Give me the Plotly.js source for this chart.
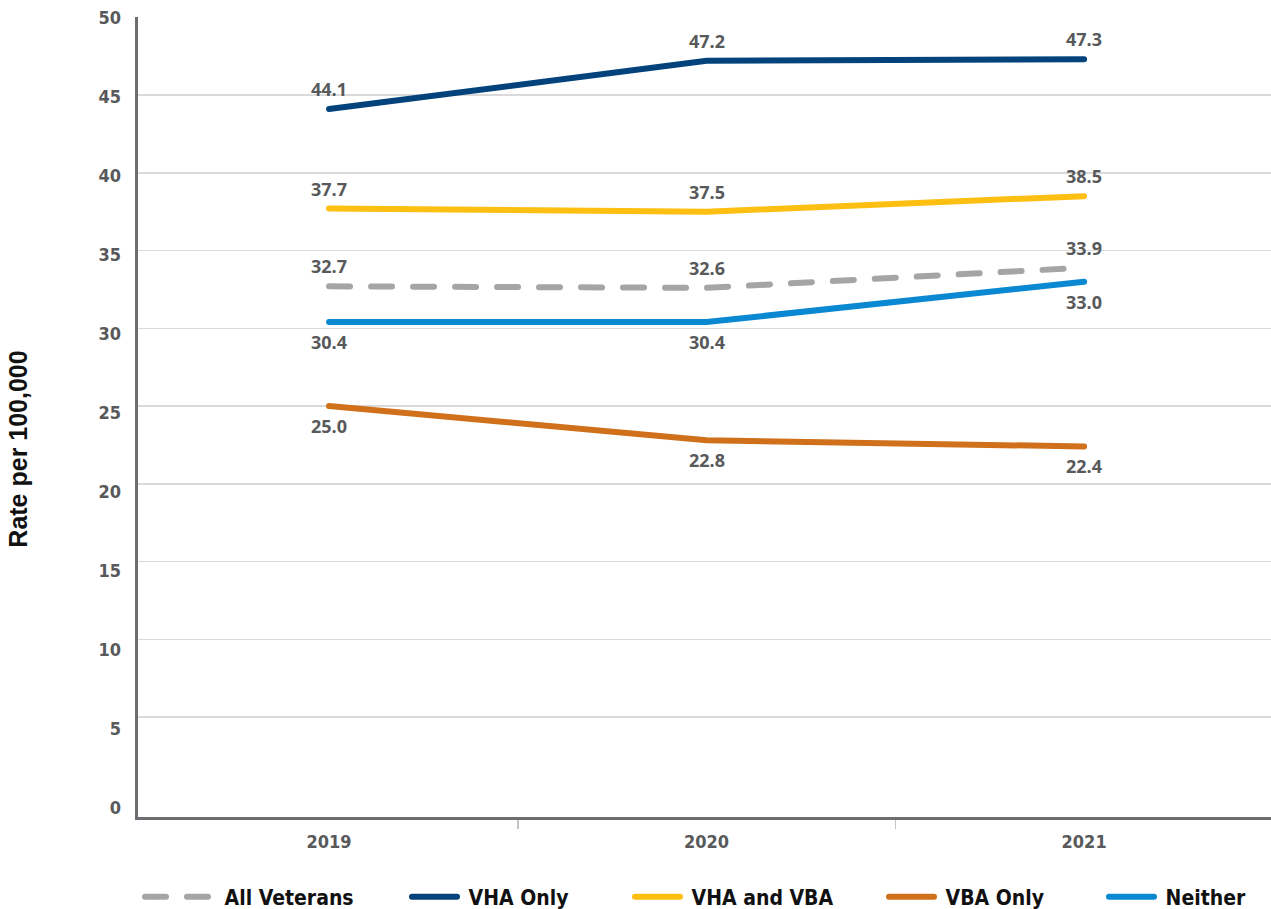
<!DOCTYPE html>
<html>
<head>
<meta charset="utf-8">
<script src="https://cdn.plot.ly/plotly-3.0.1.min.js"></script>
<style>
  html, body { margin: 0; padding: 0; background: #fff; }
  #chart { width: 1271px; height: 909px; }
  .js-line { stroke-linecap: round; }
</style>
</head>
<body>
<div id="chart"></div>
<script>
// ---- Data ----
const years = [2019, 2020, 2021];
const seriesNames = ['All Veterans', 'VHA Only', 'VHA and VBA', 'VBA Only', 'Neither'];
const allVeterans = [32.7, 32.6, 33.9];
const vhaOnly = [44.1, 47.2, 47.3];
const vhaAndVba = [37.7, 37.5, 38.5];
const vbaOnly = [25.0, 22.8, 22.4];
const neither = [30.4, 30.4, 33.0];
const yTicks = [0, 5, 10, 15, 20, 25, 30, 35, 40, 45, 50];

// ---- Styles ----
const seriesValues = [allVeterans, vhaOnly, vhaAndVba, vbaOnly, neither];
const colors = ['#a5a5a8', '#03427b', '#fdbf12', '#d0701a', '#0a88d1'];
const dashes = ['21px,21px', 'solid', 'solid', 'solid', 'solid'];
const labelSide = ['above', 'above', 'above', 'below', 'below'];
const legendLeft = [140, 407, 630, 884, 1104];
const legendItemWidth = [68, 45, 45, 45, 45];

const L = 138, R = 0, T = 17, B = 92, W = 1271, H = 909;
const plotW = W - L - R, plotH = H - T - B;
const pxToPaperX = px => (px - L) / plotW;
const pxToPaperY = py => (H - B - py) / plotH;

const narrow = '"DejaVu Sans Condensed", "Liberation Sans Narrow", Arial, sans-serif';
const tickFont = { family: narrow, size: 18, color: '#58595b', weight: 'bold' };
const labelFont = { family: '"Open Sans", Arial, sans-serif', size: 18, color: '#58595b', weight: 'bold' };
const legendFont = { family: narrow, size: 21, color: '#111111', weight: 'bold' };

const traces = [];
// empty traces for the tick-label axis and the title axis (drawn first, underneath)
traces.push({ type: 'scatter', mode: 'lines', x: [], y: [], yaxis: 'y3', showlegend: false, hoverinfo: 'skip' });
traces.push({ type: 'scatter', mode: 'lines', x: [], y: [], yaxis: 'y2', showlegend: false, hoverinfo: 'skip' });

seriesNames.forEach((name, i) => traces.push({
  type: 'scatter',
  mode: 'lines',
  name: '\u00a0' + name,
  x: years,
  y: seriesValues[i],
  yaxis: 'y',
  line: { color: colors[i], width: 6, dash: dashes[i] },
  legend: i === 0 ? 'legend' : 'legend' + (i + 1),
  hoverinfo: 'skip'
}));

const annotations = [];
seriesValues.forEach((vals, i) => {
  vals.forEach((v, j) => {
    annotations.push({
      x: years[j], y: v, xref: 'x', yref: 'y',
      text: v.toFixed(1),
      showarrow: false,
      xanchor: 'center', yanchor: 'middle',
      yshift: labelSide[i] === 'above' ? 20 : -20,
      font: labelFont
    });
  });
});

const midTicks = years.slice(1).map((y, i) => (y + years[i]) / 2);

const layout = {
  width: W, height: H,
  margin: { l: L, r: R, t: T, b: B, pad: 0, autoexpand: false },
  paper_bgcolor: '#ffffff',
  plot_bgcolor: 'rgba(0,0,0,0)',
  showlegend: true,
  xaxis: {
    range: [2018.494, 2021.495],
    tickmode: 'array',
    tickvals: years,
    ticktext: years.map(String),
    ticks: '',
    tickfont: tickFont,
    ticklabelstandoff: 6,
    showgrid: false,
    zeroline: false,
    showline: true,
    linecolor: '#6d6e71',
    linewidth: 3,
    minor: {
      tickmode: 'array',
      tickvals: midTicks,
      ticks: 'outside',
      ticklen: 9,
      tickwidth: 1.5,
      tickcolor: '#c4c4c4',
      showgrid: false
    },
    fixedrange: true
  },
  yaxis: {
    range: [-1.43, 50.02],
    tickmode: 'array',
    tickvals: yTicks.filter(v => v > 0),
    showticklabels: false,
    ticks: '',
    showgrid: true,
    gridcolor: '#dadada',
    gridwidth: 1.5,
    zeroline: false,
    showline: true,
    linecolor: '#6d6e71',
    linewidth: 3,
    fixedrange: true
  },
  yaxis2: {
    overlaying: 'y',
    side: 'left',
    anchor: 'x',
    range: [-0.57, 50.06],
    tickmode: 'array',
    tickvals: yTicks,
    ticktext: yTicks.map(String),
    ticks: '',
    tickfont: tickFont,
    ticklabelstandoff: 16,
    showgrid: false,
    zeroline: false,
    showline: false,
    fixedrange: true
  },
  yaxis3: {
    domain: [0, 0.92],
    anchor: 'free',
    position: 0,
    side: 'left',
    range: [0, 1],
    showticklabels: false,
    ticks: '',
    showgrid: false,
    zeroline: false,
    showline: false,
    title: {
      text: 'Rate per 100,000',
      standoff: 102,
      font: { family: '"Liberation Sans", Arial, sans-serif', size: 25, color: '#111111', weight: 'bold' }
    },
    fixedrange: true
  },
  annotations: annotations
};

seriesNames.forEach((name, i) => {
  const key = i === 0 ? 'legend' : 'legend' + (i + 1);
  layout[key] = {
    x: pxToPaperX(legendLeft[i]),
    y: pxToPaperY(897),
    xanchor: 'left',
    yanchor: 'middle',
    orientation: 'h',
    bgcolor: 'rgba(0,0,0,0)',
    borderwidth: 0,
    font: legendFont,
    itemwidth: legendItemWidth[i]
  };
});

Plotly.newPlot('chart', traces, layout, { displayModeBar: false, staticPlot: true });
</script>
</body>
</html>
